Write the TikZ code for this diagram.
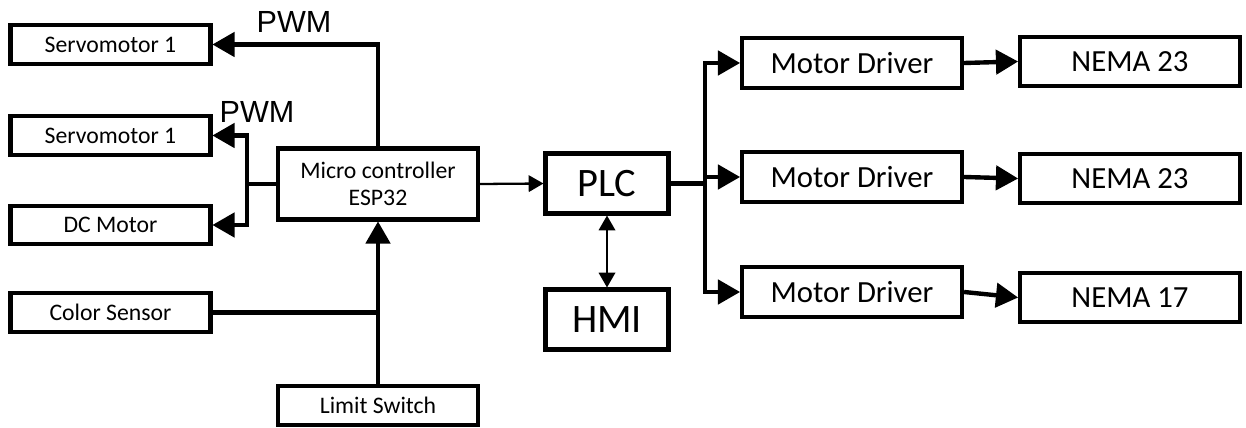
\documentclass[tikz,border=0pt]{standalone}
\usepackage{fontspec}
\setmainfont{Carlito}
\newfontfamily\arialfont{Liberation Sans}
\usetikzlibrary{shapes,arrows}
\usetikzlibrary{calc}

\begin{document}
\begin{tikzpicture}[x=0.02cm,y=-0.02cm]

\tikzstyle{small-b} = [draw,inner sep=0,line width=2.4pt,draw=black,fill=white,
minimum width=4.0cm,minimum height=0.77cm,font=\fontsize{13.5}{15}\selectfont]
\tikzstyle{driver-b} = [draw,inner sep=0,line width=2.4pt,draw=black,fill=white,
minimum width=4.4cm,minimum height=0.99cm,font=\fontsize{17.5}{20}\selectfont]
\tikzstyle{plc-b} = [draw,inner sep=0,line width=2.4pt,draw=black,fill=white,
minimum width=2.46cm,minimum height=1.2cm,font=\fontsize{23}{26}\selectfont]
\tikzstyle{wire} = [line width=2.5pt]
\tikzstyle{thin-wire} = [line width=1.3pt]
\tikzstyle{pwm} = [font=\arialfont\fontsize{17.4}{20}\selectfont,inner sep=0]

\useasboundingbox (0,0) rectangle (1246,428);

% left side
\node [small-b] (srv1) at (110.5,44.5) {Servomotor 1};
\node [small-b] (srv2) at (110.5,135.5) {Servomotor 1};
\node [small-b] (dcm) at (110.5,225) {DC Motor};
\node [small-b] (col) at (110.5,312.5) {Color Sensor};

\node [small-b, minimum height=1.42cm, align=center] (mcu) at (378,184)
{Micro controller\\ESP32};
\node [small-b] (lim) at (378,405.5) {Limit Switch};

\node [pwm] (pwm1) at (294,22) {PWM};
\node [pwm] (pwm2) at (257,112) {PWM};

\coordinate (lbus) at (247,184);
\coordinate (join) at (lim.north |- col.east);

\draw[wire,-triangle 60] (mcu.north) |- (srv1.east);
\draw[wire] (mcu.west) -- (lbus);
\draw[wire,-triangle 60] (lbus) |- (srv2.east);
\draw[wire,-triangle 60] (lbus) |- (dcm.east);
\draw[wire] (col.east) -- (join);
\draw[wire,-triangle 60] (lim.north) -- (mcu.south);

% PLC and HMI
\node [plc-b] (plc) at (607,183.5) {PLC};
\node [plc-b] (hmi) at (607,319.5) {HMI};

\draw[thin-wire,-triangle 60] (mcu.east) -- (plc.west);
\draw[thin-wire,triangle 60-triangle 60] (plc.south) -- (hmi.north);

% drivers and motors
\node [driver-b] (drv1) at (852,63) {Motor Driver};
\node [driver-b] (drv2) at (852,177) {Motor Driver};
\node [driver-b] (drv3) at (852,292) {Motor Driver};

\node [driver-b] (nema1) at (1130,61.5) {NEMA 23};
\node [driver-b] (nema2) at (1130,178.5) {NEMA 23};
\node [driver-b] (nema3) at (1130,297.5) {NEMA 17};

\coordinate (rbus) at (705,183.5);

\draw[wire] (plc.east) -- (rbus);
\draw[wire,-triangle 60] (rbus) |- (drv1.west);
\draw[wire,-triangle 60] (rbus) |- (drv2.west);
\draw[wire,-triangle 60] (rbus) |- (drv3.west);

\draw[wire,-triangle 60] (drv1.east) -- (nema1.west);
\draw[wire,-triangle 60] (drv2.east) -- (nema2.west);
\draw[wire,-triangle 60] (drv3.east) -- (nema3.west);

\end{tikzpicture}
\end{document}
